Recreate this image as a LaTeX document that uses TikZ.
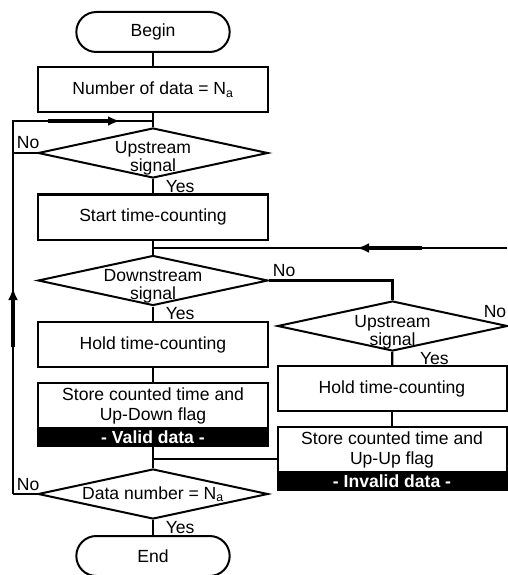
\documentclass[tikz,border=0pt]{standalone}
\usepackage{fontspec}
\setmainfont{Liberation Sans}
\usetikzlibrary{shapes.geometric,positioning,arrows.meta}

% text of a decision node, set without size so the diamond keeps its own
\newcommand{\twolines}[2]{\smash{\makebox[0pt]{\raisebox{-0.3mm}{#1}}\makebox[0pt]{\raisebox{-5.7mm}{#2}}}}
\newcommand{\oneline}[1]{\smash{\makebox[0pt]{\raisebox{-1.5mm}{#1}}}}

\begin{document}
\begin{tikzpicture}
	  [
	    x                   = 0.3mm,
	    y                   = -0.3mm,
	    every node/.style   = {font=\fontsize{15pt}{17pt}\selectfont},
	    flow/.style         = {draw, line width=0.7mm},
	    arrowseg/.style     = {draw, line width=1mm, -{Latex[length=3.6mm,width=3mm]}},
		terminal/.style		= {
			draw, line width=0.6mm, rounded corners=6mm,
			minimum width=46mm, minimum height=12mm, inner sep=0pt
		},
		process/.style		= {
			draw, line width=0.6mm, align=center,
			minimum width=68.7mm, minimum height=13.5mm, inner sep=0pt
		},
		decision/.style		= {
			draw, diamond, line width=0.6mm,
			minimum width=69mm, minimum height=15mm, inner sep=0pt
		},
		band/.style			= {
			fill=black, text=white, outer sep=0pt,
			font=\fontsize{15pt}{17pt}\selectfont\bfseries,
			minimum width=69.3mm, minimum height=6mm, inner sep=0pt
		},
		yes/.style			= {anchor=west, inner sep=0pt, xshift=3.5mm},
		no/.style			= {anchor=south west, inner sep=0pt, xshift=0.8mm, yshift=0.8mm}
		]
		\useasboundingbox (0,0) rectangle (507,575);

		% main column
		\node[terminal] (begin) at (153,32) {Begin};
		\node[process] (num) at (153,89.5) {Number of data = N\textsubscript{a}};
		\node[decision] (up1) at (153,153) {\twolines{Upstream}{signal}};
		\node[process] (start) at (153,217) {Start time-counting};
		\node[decision] (down) at (153,280.5) {\twolines{Downstream}{signal}};
		\node[process] (hold1) at (153,344.5) {Hold time-counting};
		\node[process] (store1) at (153,405.5) {Store counted time and\\Up-Down flag};
		\node[band, below=-0.6mm of store1] (valid) {- Valid data -};
		\node[decision] (data) at (153,494) {\oneline{Data number = N\textsubscript{a}}};
		\node[terminal] (end) at (153,556) {End};

		% right column
		\node[decision] (up2) at (392.5,326) {\twolines{Upstream}{signal}};
		\node[process] (hold2) at (392,388.5) {Hold time-counting};
		\node[process] (store2) at (392,449.5) {Store counted time and\\Up-Up flag};
		\node[band, below=-0.6mm of store2] (invalid) {- Invalid data -};
		\node[anchor=south east, inner sep=0pt] (no2) at ([xshift=-0.6mm,yshift=2.4mm]up2.east) {No};

		% joints and loop corners
		\coordinate (j1) at (153,121);
		\coordinate (j2) at (153,248);
		\coordinate (j3) at (153,459);
		\coordinate (loopNW) at (13,121);
		\coordinate (loopSW) at (13,494);
		\coordinate (rightEnd) at (507,248);
		\coordinate (aTs) at (48,121);
		\coordinate (aTe) at (120,121);
		\coordinate (aLs) at (13,347);
		\coordinate (aLe) at (13,288);
		\coordinate (aRs) at (422,248);
		\coordinate (aRe) at (357,248);

		\draw[flow] (begin) -- (num);
		\draw[flow] (num) -- (j1) -- (up1);
		\draw[flow] (up1) -- node[yes] {Yes} (start);
		\draw[flow] (start) -- (j2) -- (down);
		\draw[flow] (rightEnd) -- (j2);
		\draw[flow] (down) -- node[yes] {Yes} (hold1);
		\draw[flow] (hold1) -- (store1);
		\draw[flow] (valid) -- (j3) -- (data);
		\draw[flow] (j3) -- (j3 -| store2.west);
		\draw[flow] (data) -- node[yes] {Yes} (end);
		\draw[flow] (down.east) node[no] {No} -| (up2.north);
		\draw[flow] (up2) -- node[yes, xshift=4.5mm] {Yes} (hold2);
		\draw[flow] (hold2) -- (store2);

		% No branches back to the top
		\draw[flow] (up1.west) -- (up1.west -| loopNW) node[no] {No};
		\draw[flow] (data.west) -- (loopSW) node[no] {No};
		\draw[flow] (loopSW) -- (loopNW) -- (j1);
		\draw[arrowseg] (aTs) -- (aTe);
		\draw[arrowseg] (aLs) -- (aLe);
		\draw[arrowseg] (aRs) -- (aRe);
	\end{tikzpicture}
\end{document}
